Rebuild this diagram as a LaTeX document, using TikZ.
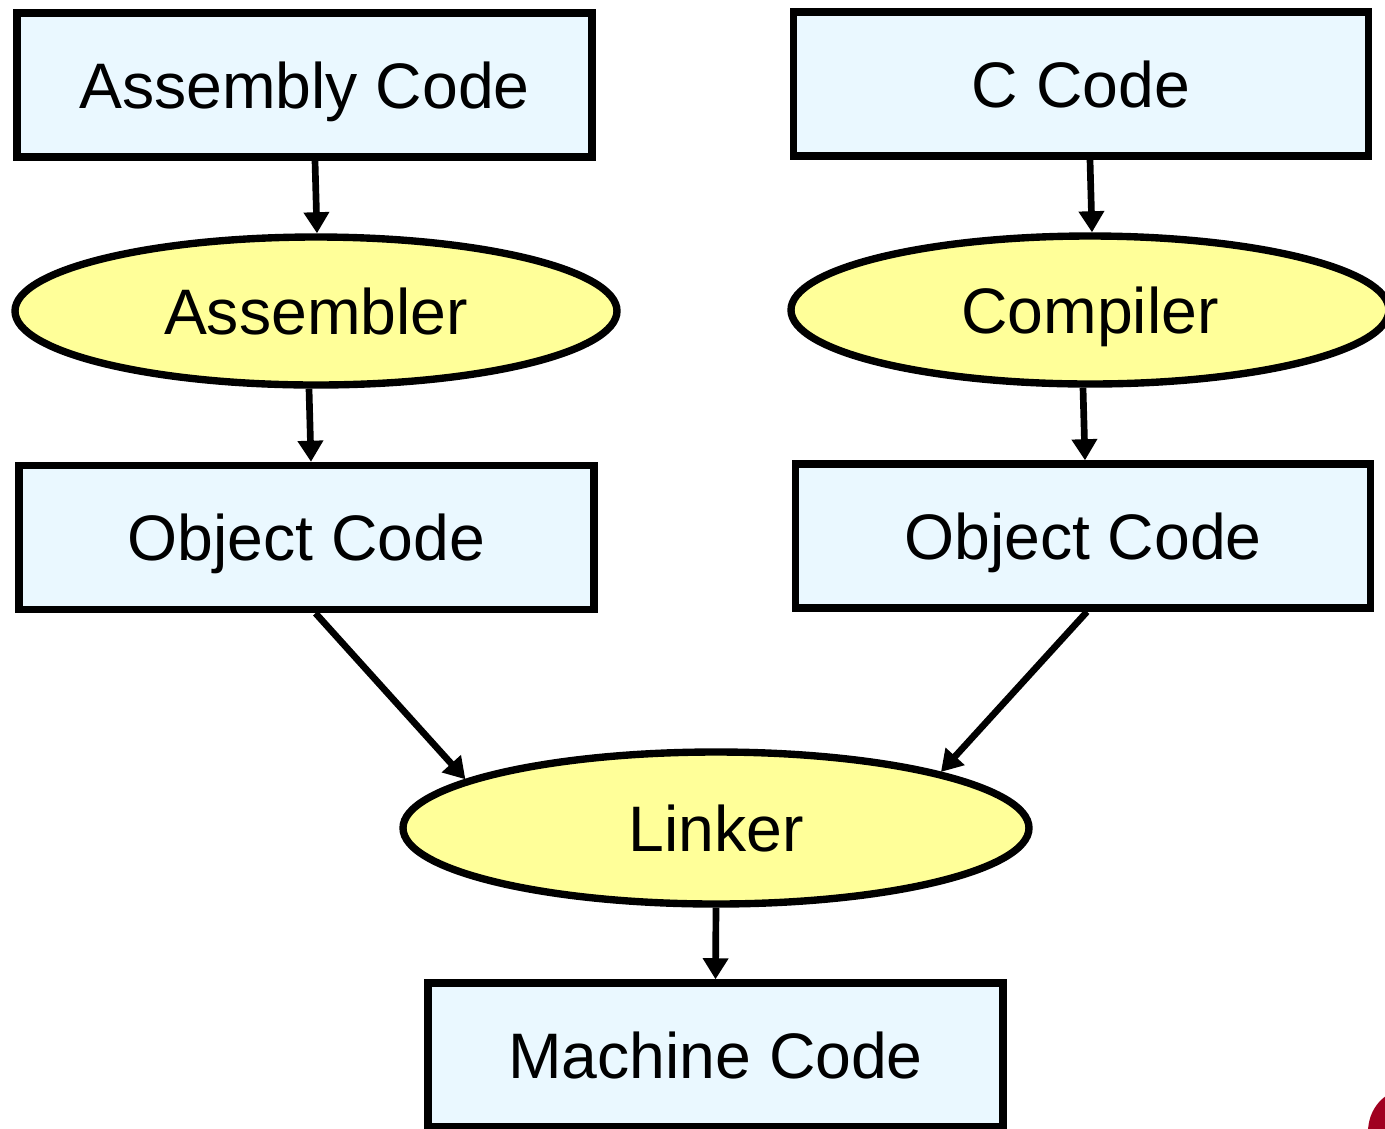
\documentclass[tikz,border=0pt]{standalone}
\usepackage{fontspec}
\setmainfont{Liberation Sans}
\usetikzlibrary{shapes.geometric,arrows.meta}
\definecolor{codefill}{RGB}{234,248,255}
\definecolor{toolfill}{RGB}{255,255,153}
\definecolor{logored}{RGB}{160,0,32}

\begin{document}
\begin{tikzpicture}[
    font=\fontsize{18.3}{22}\selectfont,
    code/.style={draw,line width=2.1pt,fill=codefill,inner sep=0pt,
      text height=13.5pt,text depth=0.3pt,
      minimum width=5.75cm,minimum height=1.44cm},
    tool/.style={ellipse,draw,line width=2.1pt,fill=toolfill,inner sep=0pt,
      text height=13.5pt,text depth=0.3pt,minimum height=1.48cm},
    flow/.style={-{Triangle[length=6pt,width=7pt]},line width=1.9pt}
  ]
  \useasboundingbox (0,0) rectangle (13.85,-11.28);
  % sources
  \node[code] (asm) at (3.045,-0.85) {Assembly Code};
  \node[code] (ccode) at (10.81,-0.84) {C Code};
  % translators
  \node[tool,minimum width=6.02cm] (assembler) at (3.16,-3.11) {Assembler};
  \node[tool,minimum width=5.98cm] (compiler) at (10.9,-3.10) {Compiler};
  % objects
  \node[code] (objl) at (3.065,-5.375) {Object Code};
  \node[code] (objr) at (10.83,-5.36) {Object Code};
  % link step
  \node[tool,minimum width=6.26cm,minimum height=1.52cm] (linker) at (7.16,-8.28) {Linker};
  \node[code] (mach) at (7.155,-10.55) {Machine Code};
  \draw[flow] ([xshift=0.105cm]asm.south) -- ([xshift=0.01cm]assembler.north);
  \draw[flow] ([xshift=-0.07cm]assembler.south) -- ([xshift=0.045cm]objl.north);
  \draw[flow] ([xshift=0.09cm]ccode.south) -- ([xshift=0.02cm]compiler.north);
  \draw[flow] ([xshift=-0.07cm]compiler.south) -- ([xshift=0.02cm]objr.north);
  \draw[flow] ([xshift=0.09cm]objl.south) -- (linker.169);
  \draw[flow] ([xshift=0.04cm]objr.south) -- (linker.14);
  \draw[flow] (linker.south) -- (mach.north);
  % corner of a logo
  \begin{scope}
    \clip (0,0) rectangle (13.85,-11.28);
    \fill[logored] (14.05,-11.32) ellipse (0.37 and 0.42);
  \end{scope}
\end{tikzpicture}
\end{document}
